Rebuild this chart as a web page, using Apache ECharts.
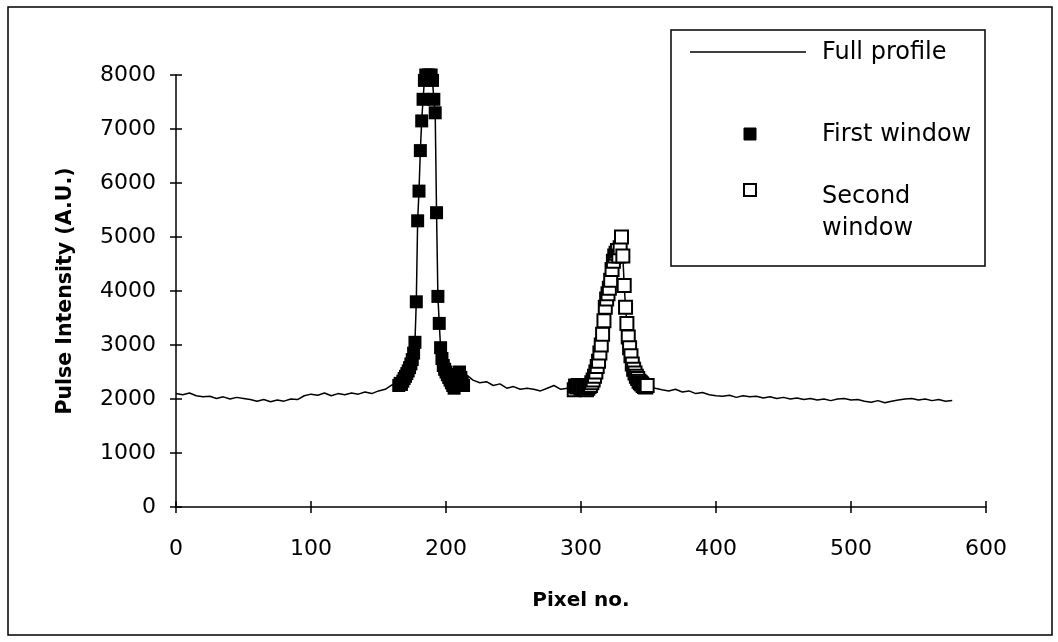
<!DOCTYPE html>
<html>
<head>
<meta charset="utf-8">
<script src="https://cdn.jsdelivr.net/npm/echarts@6/dist/echarts.min.js"></script>
<style>html,body{margin:0;padding:0;background:#fff}#c{width:1058px;height:642px}</style>
</head>
<body>
<div id="c"></div>
<script>
// Full profile: pixel numbers and intensities
const profilePixels = [0,5,10,15,20,25,30,35,40,45,50,55,60,65,70,75,80,85,90,95,100,105,110,115,120,125,130,135,140,145,150,155,160,
165,166,167,168,169,170,171,172,173,174,175,176,177,178,179,180,181,182,183,184,185,186,187,188,189,190,191,192,193,194,195,196,197,198,199,200,201,202,203,204,205,206,207,208,209,210,211,212,213,
215,220,225,230,235,240,245,250,255,260,265,270,275,280,285,290,
295,296,297,298,299,300,301,302,303,304,305,306,307,308,309,310,311,312,313,314,315,316,317,318,319,320,321,322,323,324,325,326,327,328,329,330,331,332,333,334,335,336,337,338,339,340,341,342,343,344,345,346,347,348,349,350,
355,360,365,370,375,380,385,390,395,400,405,410,415,420,425,430,435,440,445,450,455,460,465,470,475,480,485,490,495,500,505,510,515,520,525,530,535,540,545,550,555,560,565,570,575];
const profileValues = [2100,2080,2110,2060,2040,2050,2010,2040,2000,2030,2010,1990,1960,1990,1950,1980,1960,2000,1990,2060,2090,2070,2110,2060,2100,2080,2110,2090,2130,2100,2150,2180,2260,
2250,2290,2270,2330,2380,2420,2470,2520,2580,2650,2730,2850,3050,3800,5300,5850,6600,7150,7550,7900,8000,7980,8000,7950,8000,7900,7550,7300,5450,3900,3400,2950,2750,2620,2550,2500,2450,2400,2350,2300,2250,2200,2250,2300,2450,2500,2400,2300,2250,2450,
2350,2300,2320,2250,2280,2200,2230,2180,2200,2180,2150,2200,2250,2180,2200,2170,
2240,2220,2250,2230,2200,2210,2180,2200,2170,2200,2230,2250,2300,2350,2420,2500,2600,2700,2850,3000,3200,3450,3700,3850,3950,4050,4200,4400,4550,4650,4700,4750,4650,4800,5000,4650,4100,3700,3400,3150,2950,2800,2650,2550,2480,2420,2380,2330,2300,2280,2250,2230,2220,2250,2230,2200,
2170,2150,2180,2130,2150,2100,2120,2080,2060,2050,2070,2030,2060,2040,2050,2020,2040,2010,2030,2000,2020,1990,2010,1980,2000,1970,2000,2010,1980,1990,1960,1940,1970,1930,1960,1980,2000,2010,1980,2000,1970,1990,1960,1970,1950];
// Window ranges (pixel no.)
const firstWindow = [165, 213];
const secondWindow = [295, 349];
const xTicks = [0,100,200,300,400,500,600];
const yTicks = [0,1000,2000,3000,4000,5000,6000,7000,8000];

const profile = profilePixels.map((p,i)=>[p, profileValues[i]]);
const first = profile.filter(d=>d[0]>=firstWindow[0] && d[0]<=firstWindow[1]);
const second = profile.filter(d=>d[0]>=secondWindow[0] && d[0]<=secondWindow[1]);

const FONT = 'DejaVu Sans';
const plain = v => String(v);
const chart = echarts.init(document.getElementById('c'), null, {renderer:'canvas'});
const axisBase = {min:0, type:'value', splitLine:{show:false}};
chart.setOption({
  backgroundColor:'#fff',
  animation:false,
  grid:{left:176, right:72, top:75, bottom:135},
  xAxis:[
    Object.assign({}, axisBase, {max:xTicks[xTicks.length-1], interval:xTicks[1]-xTicks[0],
      name:'Pixel no.', nameLocation:'middle', nameGap:84,
      nameTextStyle:{fontFamily:FONT, fontSize:20, fontWeight:'bold', color:'#000'},
      axisLine:{onZero:false, lineStyle:{color:'#000', width:1.5}},
      axisTick:{inside:false, length:6, lineStyle:{color:'#000', width:1.5}},
      axisLabel:{margin:31, fontFamily:FONT, fontSize:22, color:'#000', formatter:plain}}),
    Object.assign({}, axisBase, {max:xTicks[xTicks.length-1], interval:xTicks[1]-xTicks[0], position:'bottom',
      axisLine:{show:false}, axisLabel:{show:false},
      axisTick:{inside:true, length:6, lineStyle:{color:'#000', width:1.5}}})
  ],
  yAxis:[
    Object.assign({}, axisBase, {max:yTicks[yTicks.length-1], interval:yTicks[1]-yTicks[0],
      name:'Pulse Intensity (A.U.)', nameLocation:'middle', nameGap:100,
      nameTextStyle:{fontFamily:FONT, fontSize:20.5, fontWeight:'bold', color:'#000'},
      axisLine:{show:true, onZero:false, lineStyle:{color:'#000', width:1.5}},
      axisTick:{show:true, inside:false, length:6, lineStyle:{color:'#000', width:1.5}},
      axisLabel:{margin:20, fontFamily:FONT, fontSize:22, color:'#000', formatter:plain}}),
    Object.assign({}, axisBase, {max:yTicks[yTicks.length-1], interval:yTicks[1]-yTicks[0], position:'left',
      axisLine:{show:false}, axisLabel:{show:false},
      axisTick:{show:true, inside:true, length:6, lineStyle:{color:'#000', width:1.5}}})
  ],
  series:[
    {name:'Full profile', type:'line', data:profile, showSymbol:false, symbol:'none',
     lineStyle:{color:'#000', width:1.5}, z:2},
    {name:'First window', type:'scatter', data:first, symbol:'rect', symbolSize:13,
     itemStyle:{color:'#000', opacity:1}, z:3},
    {name:'Second window', type:'scatter', data:second, symbol:'rect', symbolSize:13,
     itemStyle:{color:'#fff', borderColor:'#000', borderWidth:2, opacity:1}, z:4}
  ],
  graphic:[
    {type:'rect', shape:{x:8, y:7, width:1044, height:628}, style:{fill:'none', stroke:'#000', lineWidth:1.5}, z:100},
    {type:'rect', shape:{x:671, y:30, width:314, height:236}, style:{fill:'#fff', stroke:'#000', lineWidth:1.5}, z:100},
    {type:'line', shape:{x1:690, y1:52, x2:806, y2:52}, style:{stroke:'#000', lineWidth:1.5}, z:101},
    {type:'text', x:822, y:53, style:{text:'Full profile', font:'24px "DejaVu Sans"', fill:'#000', textVerticalAlign:'middle'}, z:101},
    {type:'rect', shape:{x:744, y:128, width:12, height:12}, style:{fill:'#000', stroke:'#000', lineWidth:1}, z:101},
    {type:'text', x:822, y:135, style:{text:'First window', font:'24px "DejaVu Sans"', fill:'#000', textVerticalAlign:'middle'}, z:101},
    {type:'rect', shape:{x:744, y:184, width:12, height:12}, style:{fill:'#fff', stroke:'#000', lineWidth:2}, z:101},
    {type:'text', x:822, y:197, style:{text:'Second', font:'24px "DejaVu Sans"', fill:'#000', textVerticalAlign:'middle'}, z:101},
    {type:'text', x:822, y:229, style:{text:'window', font:'24px "DejaVu Sans"', fill:'#000', textVerticalAlign:'middle'}, z:101}
  ]
});
</script>
</body>
</html>
